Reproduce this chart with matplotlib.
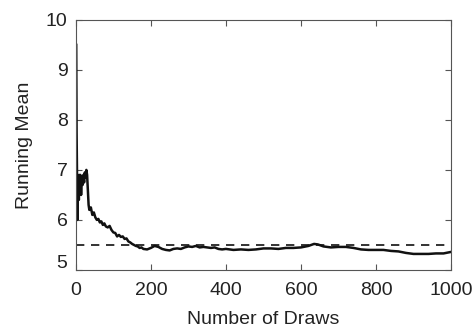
import matplotlib
matplotlib.use("Agg")
import matplotlib.pyplot as plt
from matplotlib.transforms import ScaledTranslation

# running mean
draws = [1, 2, 3, 4, 5, 6, 7, 8, 9, 10, 12, 14, 16, 18, 20, 22, 24, 26, 28, 30,
         32, 34, 36, 40, 44, 48, 52, 56, 60, 64, 68, 72, 76, 80, 85, 90, 95, 100,
         105, 110, 115, 120, 125, 130, 135, 140, 145, 150, 155, 160, 165, 170, 175,
         180, 190, 200, 210, 220, 230, 240, 250, 260, 270, 280, 290, 300, 310, 320,
         330, 340, 350, 360, 370, 380, 390, 400, 420, 440, 460, 480, 500, 520, 540,
         560, 580, 600, 620, 635, 645, 660, 680, 700, 720, 740, 760, 780, 800, 820,
         840, 860, 880, 900, 920, 940, 960, 980, 1000]
running_mean = [9.5, 7.75, 7.0, 6.0, 6.9, 6.5, 6.8, 6.4, 6.9, 6.6, 6.9, 6.5, 6.85,
                6.7, 6.9, 6.75, 6.95, 6.85, 7.0, 6.9, 6.6, 6.3, 6.2, 6.25, 6.1, 6.15,
                6.05, 6.0, 6.02, 5.95, 5.97, 5.9, 5.93, 5.87, 5.85, 5.88, 5.8, 5.75,
                5.74, 5.67, 5.7, 5.66, 5.67, 5.62, 5.63, 5.57, 5.55, 5.52, 5.5, 5.48,
                5.47, 5.44, 5.45, 5.42, 5.41, 5.44, 5.48, 5.46, 5.42, 5.40, 5.39, 5.42,
                5.43, 5.42, 5.45, 5.47, 5.46, 5.48, 5.45, 5.46, 5.45, 5.44, 5.45, 5.42,
                5.41, 5.42, 5.40, 5.41, 5.40, 5.41, 5.43, 5.43, 5.42, 5.44, 5.44, 5.45,
                5.48, 5.52, 5.51, 5.47, 5.45, 5.46, 5.46, 5.44, 5.41, 5.40, 5.40, 5.40,
                5.38, 5.37, 5.34, 5.32, 5.32, 5.32, 5.33, 5.33, 5.36]
true_mean = 5.5

plt.rcParams['font.family'] = ['Liberation Sans', 'DejaVu Sans']

fig = plt.figure(figsize=(4.77, 3.26), dpi=100)
ax = fig.add_axes([0.159, 0.172, 0.7865, 0.767])

ax.plot(draws, running_mean, color='#111111', lw=1.8)
ax.plot([0, 1000], [true_mean, true_mean], color='#111111', lw=1.2,
        linestyle=(0, (5, 4)))

ax.set_xlim(0, 1000)
ax.set_ylim(5, 10)
ax.set_xticks([0, 200, 400, 600, 800, 1000])
ax.set_yticks([5, 6, 7, 8, 9, 10])
ax.tick_params(direction='in', top=True, right=True, length=4, width=0.8,
               color='#555555', labelsize=14, labelcolor='#222222')
ax.tick_params(axis='x', pad=9)
ax.tick_params(axis='y', pad=6)
for s in ax.spines.values():
    s.set_color('#555555')
    s.set_linewidth(0.8)

# lift the bottom y label a little, like the reference
lbl = ax.get_yticklabels()[0]
lbl.set_transform(lbl.get_transform() + ScaledTranslation(0, 8 / 100, fig.dpi_scale_trans))

ax.set_xlabel('Number of Draws', fontsize=14, color='#222222', labelpad=8)
ax.set_ylabel('Running Mean', fontsize=14, color='#222222', labelpad=9)

fig.savefig('out.png', dpi=100)
